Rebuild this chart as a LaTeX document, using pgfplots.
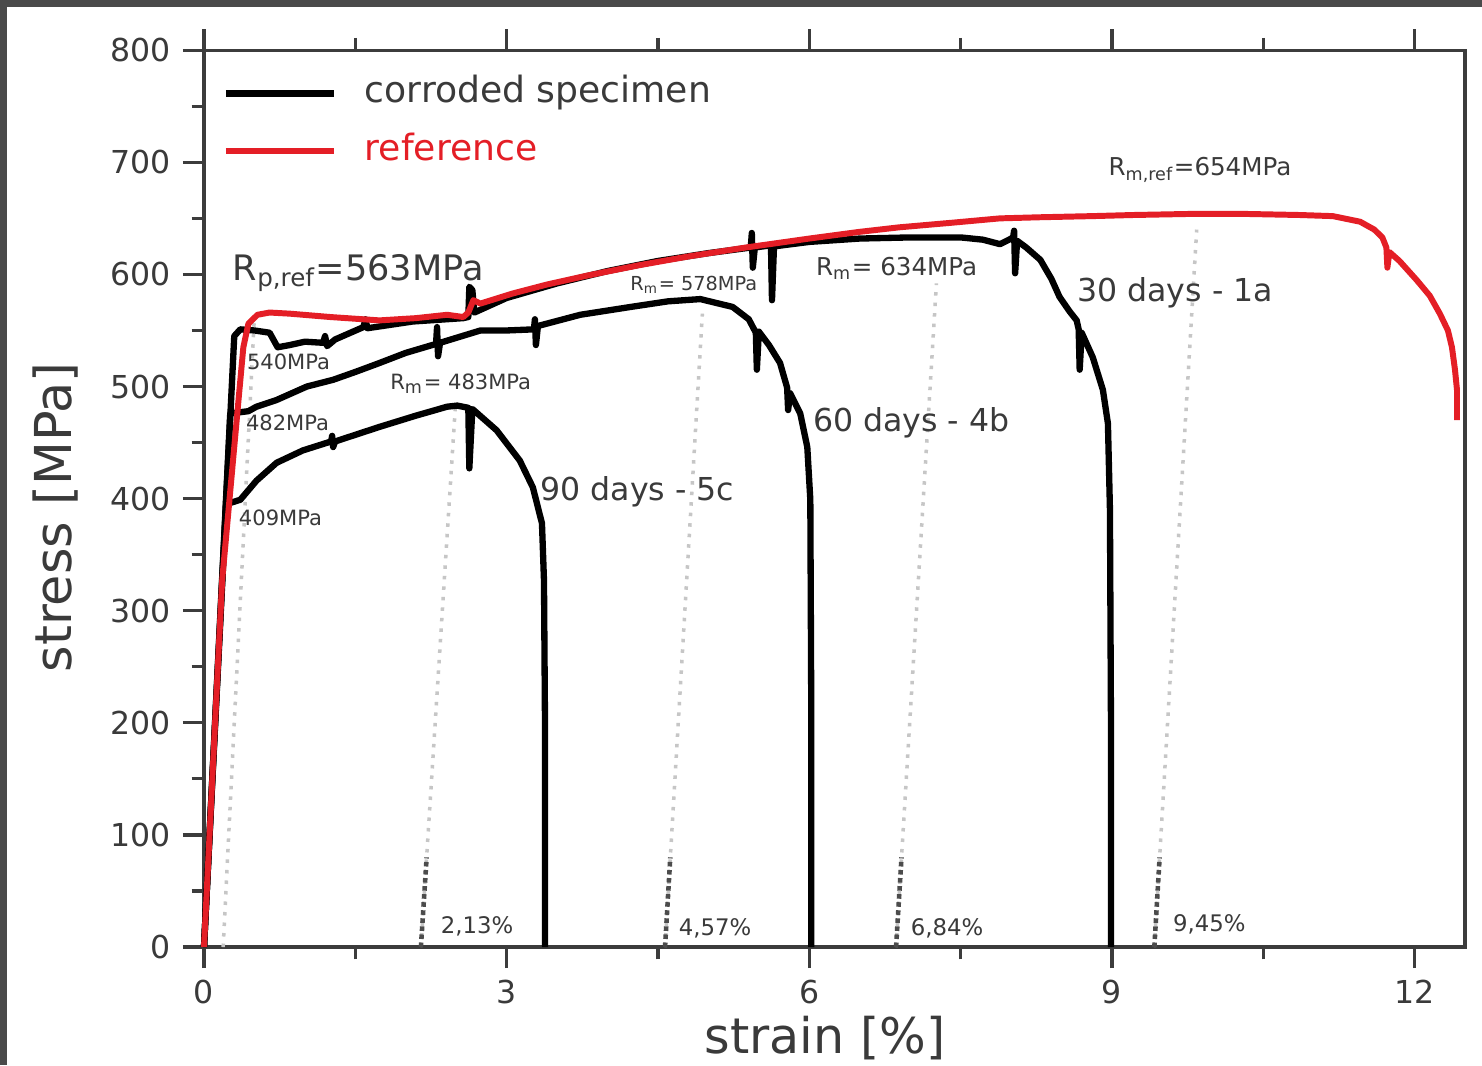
\documentclass[border=0pt]{standalone}
\usepackage{fontspec}
\setmainfont{DejaVu Sans}
\usepackage{pgfplots}
\pgfplotsset{compat=1.18}
\definecolor{frameGray}{HTML}{4A4A4A}
\definecolor{axGray}{HTML}{3C3C3C}
\definecolor{txtGray}{HTML}{3A3A3A}
\definecolor{refRed}{HTML}{E41E26}

\begin{document}
\begin{tikzpicture}[ann/.style={inner sep=0pt,text=txtGray}]
% screenshot frame (dark strip on top and left)
\fill[frameGray] (-58.14pt,-33.63pt) rectangle (364.23pt,269.9pt);
\fill[white] (-56.14pt,-33.63pt) rectangle (364.23pt,267.9pt);
\path[use as bounding box] (-58.14pt,-33.63pt) rectangle (364.23pt,269.9pt);
\begin{axis}[scale only axis,width=359.4pt,height=255.6pt,
xmin=0,xmax=12.5,ymin=0,ymax=800,clip=false,
xtick={0,3,6,9,12},ytick={0,100,...,800},
minor x tick num=1,minor y tick num=1,
xtick pos=both,ytick pos=left,tick align=outside,
major tick length=6pt,minor tick length=3.5pt,
axis line style={axGray,line width=0.9pt},
every tick/.style={axGray,line width=0.9pt},
/pgf/number format/assume math mode=true,
ticklabel style={font=\fontsize{9}{10}\selectfont,text=txtGray},
xlabel={strain [\%]},ylabel={stress [MPa]},
label style={font=\fontsize{14.5}{16}\selectfont,text=txtGray},
xlabel style={at={(axis description cs:0.4925,-0.101)},anchor=center,
font=\fontsize{14}{15}\selectfont},
ylabel style={at={(axis description cs:-0.118,0.479)},anchor=center},
legend style={draw=none,fill=none,inner sep=0pt,
at={(axis description cs:0.0143,0.972)},anchor=north west,
font=\fontsize{10.3}{12}\selectfont,text=txtGray,
row sep=6.5pt,column sep=8pt,
nodes={inner sep=0pt,text height=7.5pt,text depth=2.5pt}},
legend cell align=left,
legend image code/.code={\draw[#1] (0pt,0pt) -- (30.7pt,0pt);}]

% dotted offset lines
\addplot[gray!45,dotted,line width=1pt,forget plot] coordinates {(0.19,0) (0.50,563)};
\addplot[gray!45,dotted,line width=1pt,forget plot] coordinates {(2.15,0) (2.49,480)};
\addplot[gray!45,dotted,line width=1pt,forget plot] coordinates {(4.57,0) (4.94,565)};
\addplot[gray!45,dotted,line width=1pt,forget plot] coordinates {(6.86,0) (7.26,592)};
\addplot[gray!45,dotted,line width=1pt,forget plot] coordinates {(9.42,0) (9.84,640)};
\addplot[black!70,densely dotted,line width=1.3pt,forget plot] coordinates {(2.15,0) (2.207,80)};
\addplot[black!70,densely dotted,line width=1.3pt,forget plot] coordinates {(4.57,0) (4.622,80)};
\addplot[black!70,densely dotted,line width=1.3pt,forget plot] coordinates {(6.86,0) (6.914,80)};
\addplot[black!70,densely dotted,line width=1.3pt,forget plot] coordinates {(9.42,0) (9.4725,80)};

% 30 days - 1a
\addplot[black,line width=1.8pt,line join=round] coordinates {
(0,0) (0.30,545) (0.36,551) (0.50,550) (0.65,548) (0.73,535) (0.85,537)
(1.0,540) (1.18,539) (1.20,545) (1.22,536) (1.30,542) (1.58,553) (1.60,560)
(1.62,552) (2.07,558) (2.57,561) (2.62,562) (2.63,589) (2.66,586) (2.68,566)
(3.0,579) (3.5,592) (4.0,603) (4.5,612) (5.0,619) (5.42,624) (5.43,637)
(5.44,606) (5.46,624) (5.62,626) (5.63,577) (5.65,625) (6.0,629) (6.5,632)
(7.0,633) (7.5,633) (7.72,631) (7.89,627) (7.98,631) (8.02,633) (8.03,639)
(8.04,601) (8.06,630) (8.15,624) (8.29,613) (8.40,596) (8.48,580) (8.58,567)
(8.65,559) (8.67,551) (8.68,515) (8.70,548) (8.81,526) (8.91,497) (8.96,467)
(8.98,390) (8.99,200) (8.99,0)};
\addlegendentry{corroded specimen}

% 60 days - 4b
\addplot[black,line width=1.8pt,line join=round,forget plot] coordinates {
(0,0) (0.26,476) (0.44,478) (0.52,482) (0.72,488) (1.02,500) (1.28,506)
(1.50,513) (1.74,521) (2.0,530) (2.30,538) (2.31,553) (2.32,527) (2.34,539)
(2.74,550) (3.0,550) (3.27,551) (3.28,560) (3.29,537) (3.31,554) (3.73,564)
(4.23,571) (4.6,576) (4.92,578) (5.24,571) (5.40,560) (5.47,548) (5.48,515)
(5.50,549) (5.60,537) (5.71,521) (5.78,499) (5.79,479) (5.81,494) (5.91,476)
(5.98,446) (6.01,399) (6.02,200) (6.02,0)};

% 90 days - 5c
\addplot[black,line width=1.8pt,line join=round,forget plot] coordinates {
(0,0) (0.22,395) (0.36,399) (0.52,416) (0.72,432) (0.98,443) (1.26,451)
(1.27,456) (1.28,446) (1.30,451) (1.74,464) (2.1,474) (2.41,482) (2.51,483)
(2.62,481) (2.63,427) (2.66,480) (2.90,461) (3.13,434) (3.26,410) (3.35,378)
(3.37,327) (3.38,200) (3.38,0)};

% reference
\addplot[refRed,line width=1.7pt,line join=round] coordinates {
(0,0) (0.18,327) (0.33,476) (0.39,535) (0.44,556) (0.53,564) (0.65,566)
(0.85,565) (1.25,562) (1.74,559) (2.1,561) (2.41,564) (2.57,562) (2.62,566)
(2.67,577) (2.74,574) (3.06,583) (3.4,591) (3.8,599) (4.3,608) (4.8,616)
(5.37,624) (6.0,632) (6.5,638) (6.89,642) (7.4,646) (7.89,650) (8.29,651)
(8.8,652) (9.21,653) (9.8,654) (10.3,654) (10.86,653) (11.19,652) (11.46,647)
(11.60,640) (11.68,633) (11.72,624) (11.73,606) (11.75,620) (11.85,612)
(12.02,595) (12.15,581) (12.25,565) (12.33,550) (12.37,535) (12.40,515)
(12.42,497) (12.42,470)};
\addlegendentry{\textcolor{refRed}{reference}}

% annotations
\node[ann,anchor=base west,font=\fontsize{10}{12}\selectfont] at (axis cs:0.28,595) {R\textsubscript{p,ref}=563MPa};
\node[ann,anchor=base west,font=\fontsize{5.5}{6}\selectfont] at (axis cs:4.22,586) {R\textsubscript{m}= 578MPa};
\node[ann,anchor=base west,font=\fontsize{7}{8}\selectfont] at (axis cs:6.06,599) {R\textsubscript{m}= 634MPa};
\node[ann,anchor=base west,font=\fontsize{7}{8}\selectfont] at (axis cs:8.96,688) {R\textsubscript{m,ref}=654MPa};
\node[ann,anchor=base west,font=\fontsize{6}{7}\selectfont] at (axis cs:0.42,515) {540MPa};
\node[ann,anchor=base west,font=\fontsize{6}{7}\selectfont] at (axis cs:0.41,461) {482MPa};
\node[ann,anchor=base west,font=\fontsize{6}{7}\selectfont] at (axis cs:0.34,376) {409MPa};
\node[ann,anchor=base west,font=\fontsize{6}{7}\selectfont] at (axis cs:1.84,497) {R\textsubscript{m}= 483MPa};
\node[ann,anchor=west,font=\fontsize{9}{10}\selectfont] at (axis cs:3.33,406) {90 days - 5c};
\node[ann,anchor=west,font=\fontsize{9}{10}\selectfont] at (axis cs:6.03,468) {60 days - 4b};
\node[ann,anchor=west,font=\fontsize{9}{10}\selectfont] at (axis cs:8.65,584) {30 days - 1a};
\node[ann,anchor=west,font=\fontsize{6.5}{7}\selectfont] at (axis cs:2.34,18) {2,13\%};
\node[ann,anchor=west,font=\fontsize{6.5}{7}\selectfont] at (axis cs:4.70,17) {4,57\%};
\node[ann,anchor=west,font=\fontsize{6.5}{7}\selectfont] at (axis cs:7.00,17) {6,84\%};
\node[ann,anchor=west,font=\fontsize{6.5}{7}\selectfont] at (axis cs:9.60,20) {9,45\%};
\end{axis}
\end{tikzpicture}
\end{document}
